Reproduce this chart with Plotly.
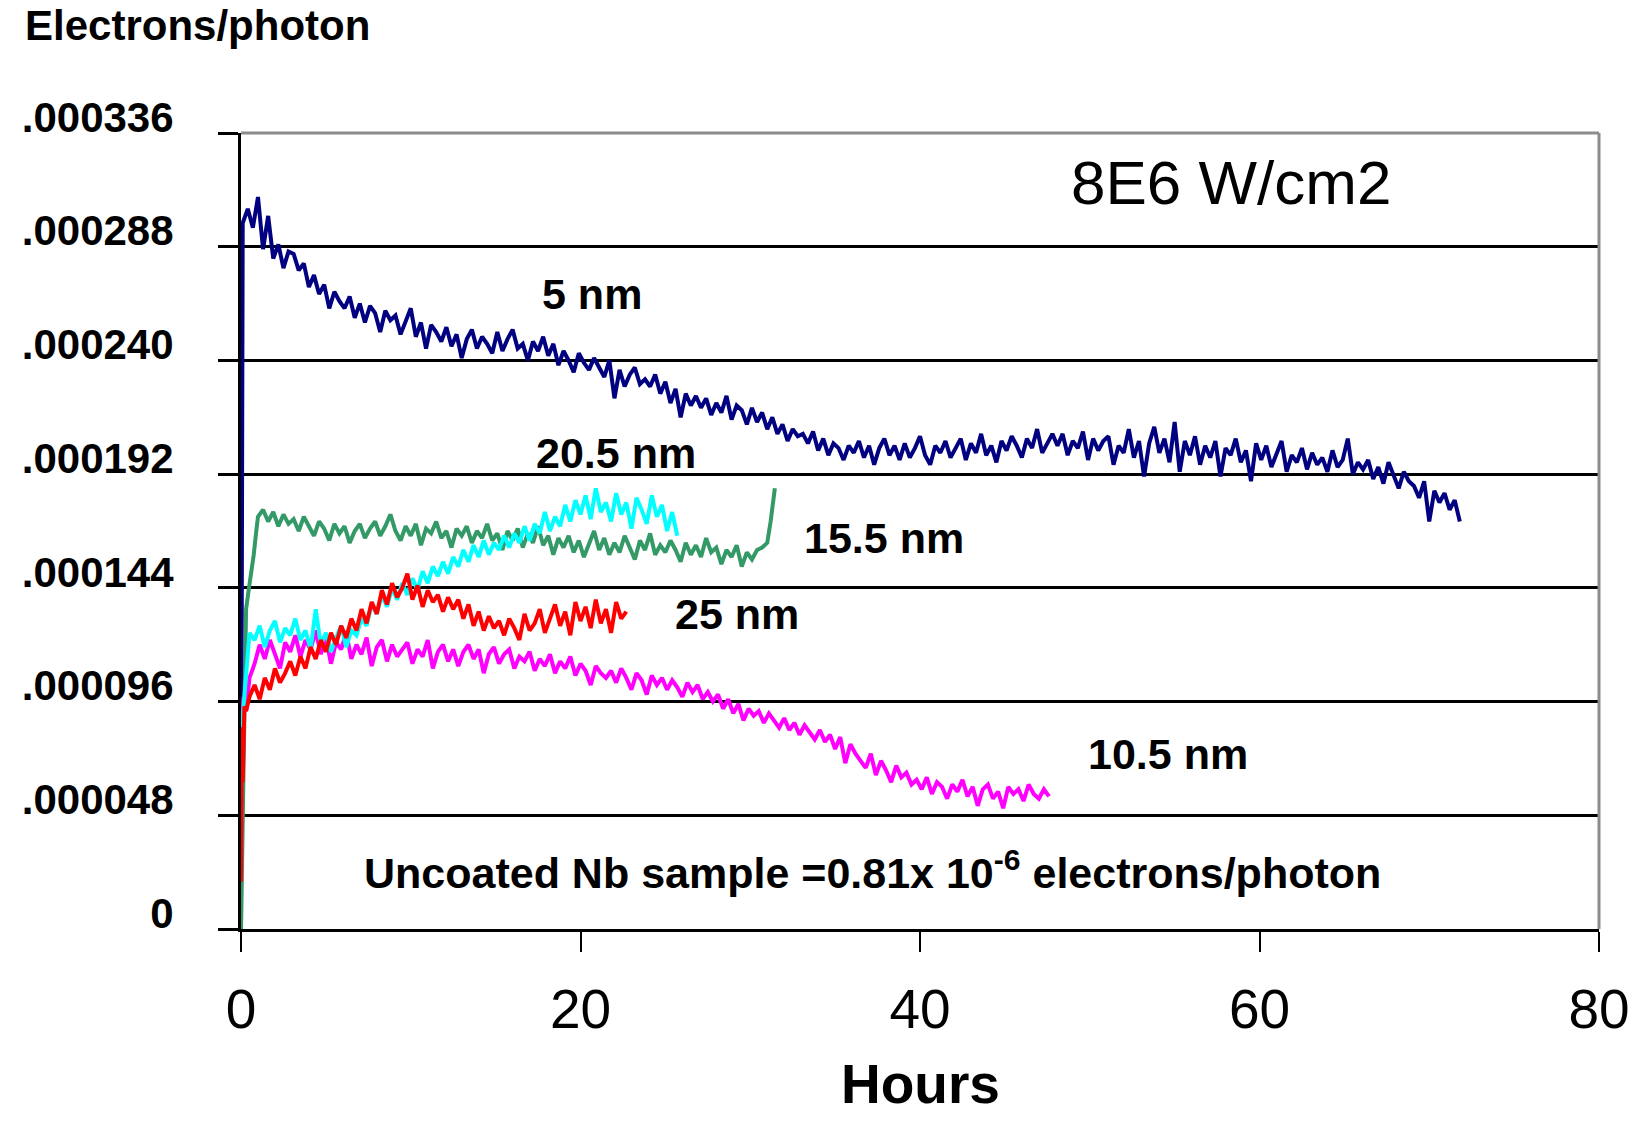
import plotly.graph_objects as go

FONT = "Liberation Sans, Arial, Helvetica, sans-serif"

# ---------------- axis ticks ----------------
# y values are expressed in units of 1e-6 electrons/photon
y_tick_vals = [0, 48, 96, 144, 192, 240, 288, 336]
y_tick_text = ["0", ".000048", ".000096", ".000144", ".000192", ".000240", ".000288", ".000336"]
x_tick_vals = [0, 20, 40, 60, 80]
x_tick_text = ["0", "20", "40", "60", "80"]

STEP = 0.3  # hours between samples of the measured part

# ---------------- 5 nm (navy) ----------------
nm5_head_hours = [0.0]
nm5_head_vals = [0]
nm5_start = 0.1
nm5_vals = [
    298, 304, 296, 309, 287, 301, 283, 289, 279, 286,
    285, 278, 281, 271, 276, 268, 272, 262, 269, 265,
    262, 267, 258, 264, 256, 263, 260, 252, 261, 257,
    259, 251, 257, 262, 250, 256, 245, 255, 252, 248,
    254, 246, 251, 241, 249, 253, 245, 250, 247, 243,
    252, 244, 249, 253, 245, 247, 240, 248, 244, 250,
    242, 247, 238, 244, 240, 235, 243, 239, 236, 241,
    237, 233, 240, 224, 236, 229, 234, 237, 230, 232,
    229, 234, 226, 231, 222, 228, 216, 226, 221, 225,
    220, 224, 217, 222, 218, 225, 215, 221, 219, 213,
    220, 214, 218, 211, 216, 209, 213, 206, 211, 208,
    209, 205, 210, 202, 207, 200, 205, 203, 198, 204,
    201, 206, 199, 204, 196, 203, 207, 200, 204, 198,
    205, 199, 203, 208, 200, 196, 204, 201, 206, 199,
    203, 207, 198, 205, 201, 209, 200, 204, 197, 206,
    202, 208, 204, 199, 207, 203, 211, 201, 205, 209,
    204, 209, 200, 206, 203, 210, 198, 207, 202, 206,
    208, 196, 204, 201, 211, 199, 206, 191, 205, 212,
    201, 207, 197, 214, 193, 206, 200, 208, 196, 204,
    199, 206, 191, 203, 200, 207, 197, 202, 189, 205,
    198, 204, 195, 201, 206, 193, 200, 197, 203, 194,
    201, 196, 199, 193, 202, 195, 198, 207, 192, 197,
    194, 198, 190, 195, 188, 197, 191, 186, 193, 189,
    187, 182, 189, 172, 185, 180, 184, 177, 181, 172,
]

# ---------------- 15.5 nm (green) ----------------
nm15_head_hours = [0.0, 0.1, 0.2, 0.3, 0.45, 0.6, 0.75, 0.9]
nm15_head_vals = [0, 40, 100, 135, 143, 150, 158, 168]
nm15_start = 1.0
nm15_vals = [
    174, 177, 172, 176, 170, 175, 171, 173, 168, 174,
    170, 166, 172, 169, 164, 171, 167, 170, 163, 168,
    171, 165, 169, 172, 166, 170, 175, 168, 164, 170,
    166, 171, 162, 169, 167, 172, 165, 168, 161, 169,
    166, 170, 163, 168, 165, 171, 164, 167, 160, 168,
    164, 169, 161, 167, 163, 170, 162, 166, 158, 165,
    161, 166, 159, 164, 157, 163, 168, 160, 165, 158,
    163, 159, 166, 161, 156, 164, 160, 167, 158, 162,
    159, 164, 160, 155, 163, 158, 162, 157, 165, 159,
    161, 154, 160, 157, 162, 153, 159, 156, 160,
]
nm15_tail_hours = [30.7, 31.0, 31.2, 31.35, 31.45]
nm15_tail_vals = [161, 163, 172, 180, 186]

# ---------------- 10.5 nm (magenta) ----------------
nm10_head_hours = [0.02, 0.15, 0.3, 0.5]
nm10_head_vals = [85, 98, 92, 106]
nm10_start = 0.8
nm10_vals = [
    112, 120, 114, 122, 116, 110, 121, 117, 124, 115,
    122, 118, 126, 116, 123, 112, 121, 118, 125, 114,
    120, 116, 123, 111, 119, 122, 113, 120, 115, 118,
    121, 112, 118, 115, 122, 110, 117, 120, 113, 118,
    111, 117, 120, 114, 118, 108, 116, 119, 112, 116,
    118, 110, 115, 113, 117, 109, 114, 111, 116, 108,
    113, 110, 115, 107, 112, 109, 103, 111, 108, 106,
    109, 104, 110, 106, 101, 108, 105, 99, 107, 103,
    106, 101, 105, 102, 98, 104, 100, 103, 97, 100,
    96, 99, 93, 97, 91, 95, 88, 93, 90, 92,
    87, 91, 88, 85, 89, 84, 87, 82, 86, 83,
    80, 84, 79, 82, 76, 81, 70, 78, 74, 71,
    68, 74, 65, 71, 67, 62, 69, 64, 66, 61,
    63, 59, 64, 57, 62, 60, 55, 61, 58, 63,
    56, 60, 52, 59, 61, 55, 58, 51, 60, 57,
    59, 54, 61, 57, 55, 59, 56,
]

# ---------------- 20.5 nm (cyan) ----------------
nm20_head_hours = [0.05, 0.2, 0.35, 0.5]
nm20_head_vals = [85, 100, 115, 125]
nm20_start = 0.8
nm20_vals = [
    122, 128, 119, 126, 130, 121, 127, 124, 131, 122,
    126, 118, 135, 120, 125, 117, 123, 128, 119, 126,
    124, 131, 128, 137, 133, 141, 136, 144, 139, 146,
    141, 148, 143, 151, 146, 153, 149, 155, 150, 157,
    153, 160, 155, 162, 157, 164, 158, 163, 160, 166,
    161, 167, 163, 170, 164, 171, 167, 176, 168, 174,
    170, 179, 172, 181, 175, 183, 173, 186, 176, 180,
    172, 184, 175, 180, 169, 182, 177, 171, 183, 174,
    179, 168, 176, 166,
]

# ---------------- 25 nm (red) ----------------
nm25_head_hours = [0.0, 0.05, 0.1, 0.2, 0.3]
nm25_head_vals = [20, 85, 62, 94, 92]
nm25_start = 0.5
nm25_vals = [
    98, 103, 97, 106, 101, 110, 104, 108, 113, 107,
    115, 110, 119, 114, 122, 117, 125, 120, 128, 123,
    131, 126, 135, 129, 138, 133, 143, 137, 146, 140,
    144, 150, 139, 145, 136, 143, 138, 141, 134, 140,
    135, 139, 131, 137, 128, 134, 126, 132, 127, 130,
    124, 131, 127, 122, 133, 126, 129, 135, 125, 131,
    137, 128, 134, 124, 138, 130, 136, 127, 139, 129,
    135, 125, 138, 131, 134,
]


def build(head_h, head_v, start, vals, tail_h=(), tail_v=()):
    hours = list(head_h) + [round(start + STEP * i, 3) for i in range(len(vals))] + list(tail_h)
    values = list(head_v) + list(vals) + list(tail_v)
    return hours, values


series = [
    ("5 nm", "#000080", build(nm5_head_hours, nm5_head_vals, nm5_start, nm5_vals)),
    ("15.5 nm", "#339966", build(nm15_head_hours, nm15_head_vals, nm15_start, nm15_vals,
                                 nm15_tail_hours, nm15_tail_vals)),
    ("10.5 nm", "#FF00FF", build(nm10_head_hours, nm10_head_vals, nm10_start, nm10_vals)),
    ("20.5 nm", "#00FFFF", build(nm20_head_hours, nm20_head_vals, nm20_start, nm20_vals)),
    ("25 nm", "#FF0000", build(nm25_head_hours, nm25_head_vals, nm25_start, nm25_vals)),
]

fig = go.Figure()
for name, color, (hx, vy) in series:
    fig.add_trace(go.Scatter(x=hx, y=vy, mode="lines", name=name,
                             line=dict(color=color, width=4), showlegend=False))

# ---------------- labels ----------------
series_labels = [
    ("5 nm", 20.7, 268),
    ("20.5 nm", 22.1, 201),
    ("15.5 nm", 37.9, 165),
    ("25 nm", 29.2, 133),
    ("10.5 nm", 54.6, 74),
]
for txt, hx, vy in series_labels:
    fig.add_annotation(x=hx, y=vy, xref="x", yref="y", text="<b>" + txt + "</b>",
                       showarrow=False,
                       font=dict(family=FONT, size=43, color="black"),
                       xanchor="center", yanchor="middle")

fig.add_annotation(x=37.2, y=24.7, xref="x", yref="y",
                   text="<b>Uncoated Nb sample =0.81x 10<sup>-6</sup> electrons/photon</b>",
                   showarrow=False, font=dict(family=FONT, size=43, color="black"),
                   xanchor="center", yanchor="middle")
fig.add_annotation(x=58.3, y=315, xref="x", yref="y", text="8E6 W/cm2",
                   showarrow=False, font=dict(family=FONT, size=62, color="black"),
                   xanchor="center", yanchor="middle")

# plot area in pixels: left 241, right 1599, top 133, bottom 929
PL, PR, PT, PB = 241, 1599, 133, 929
fig.add_annotation(x=(23 - PL) / (PR - PL), y=(PB - 26) / (PB - PT), xref="paper", yref="paper",
                   text="<b>Electrons/photon</b>", showarrow=False,
                   font=dict(family=FONT, size=42, color="black"),
                   xanchor="left", yanchor="middle")
fig.add_annotation(x=0.5, y=(PB - 1084) / (PB - PT), xref="paper", yref="paper",
                   text="<b>Hours</b>", showarrow=False,
                   font=dict(family=FONT, size=55, color="black"),
                   xanchor="center", yanchor="middle")

# frame (grey top and right border)
fig.add_shape(type="line", xref="paper", yref="paper", x0=0, x1=1, y0=1, y1=1,
              line=dict(color="#8c8c8c", width=3), layer="above")
fig.add_shape(type="line", xref="paper", yref="paper", x0=1, x1=1, y0=0, y1=1,
              line=dict(color="#8c8c8c", width=3), layer="above")

y_tick_text_bold = ["<b>" + t + "</b>" for t in y_tick_text]

fig.update_layout(
    width=1643, height=1122,
    margin=dict(l=PL, r=1643 - PR, t=PT, b=1122 - PB, autoexpand=False),
    paper_bgcolor="white", plot_bgcolor="white",
    font=dict(family=FONT, color="black"),
    xaxis=dict(
        range=[0, 80], tickvals=x_tick_vals, ticktext=x_tick_text,
        showgrid=False, zeroline=False, automargin=False,
        showline=True, linecolor="black", linewidth=3,
        ticks="outside", ticklen=20, tickwidth=2, tickcolor="black",
        tickfont=dict(family=FONT, size=55, color="black"),
        ticklabelstandoff=10,
    ),
    yaxis=dict(
        range=[0, 336], tickvals=y_tick_vals, ticktext=y_tick_text_bold,
        showgrid=True, gridcolor="black", gridwidth=2.5, zeroline=False, automargin=False,
        showline=True, linecolor="black", linewidth=3,
        ticks="outside", ticklen=20, tickwidth=2.5, tickcolor="black",
        tickfont=dict(family=FONT, size=42, color="black"),
        ticklabelstandoff=36, ticklabelshift=-16,
    ),
)

fig.write_html("out.html")
